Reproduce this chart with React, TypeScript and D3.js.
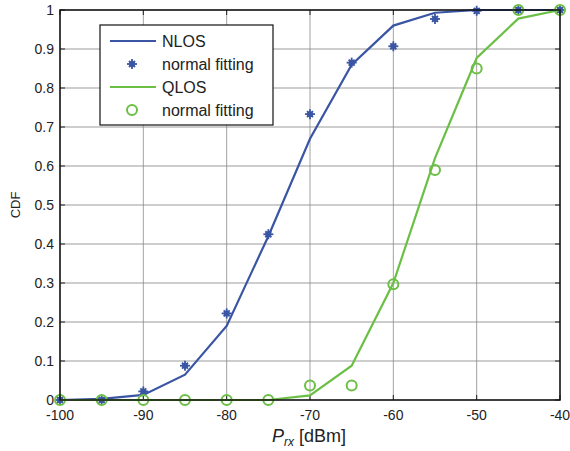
import React from "react";
import * as d3 from "d3";

// Received power grid [dBm]
const powerLevels = [-100, -95, -90, -85, -80, -75, -70, -65, -60, -55, -50, -45, -40];
// Empirical CDFs
const nlosCdf = [0, 0.003, 0.013, 0.065, 0.19, 0.42, 0.67, 0.86, 0.96, 0.993, 1, 1, 1];
const qlosCdf = [0, 0, 0, 0, 0, 0, 0.012, 0.088, 0.3, 0.62, 0.877, 0.978, 1];
// Normal-distribution fits
const nlosFit = [0, 0, 0.022, 0.088, 0.222, 0.425, 0.733, 0.865, 0.907, 0.977, 0.998, 1, 1];
const qlosFit = [0, 0, 0, 0, 0, 0, 0.037, 0.037, 0.297, 0.59, 0.85, 1, 1];

const xTicks = [-100, -90, -80, -70, -60, -50, -40];
const yTicks = [0, 0.1, 0.2, 0.3, 0.4, 0.5, 0.6, 0.7, 0.8, 0.9, 1];

const legendItems = [
  { label: "NLOS", kind: "line", color: "#3a55a4" },
  { label: "normal fitting", kind: "star", color: "#3a55a4" },
  { label: "QLOS", kind: "line", color: "#6cbf45" },
  { label: "normal fitting", kind: "circle", color: "#6cbf45" },
];

const BLUE = "#3a55a4";
const GREEN = "#6cbf45";
const FONT = "'Liberation Sans', Arial, sans-serif";

const W = 570;
const H = 451;
const left = 60, right = 560, top = 10, bottom = 400;

function Star({ x, y, color }: { x: number; y: number; color: string }) {
  const r = 5;
  const d = r * 0.6;
  return (
    <g stroke={color} strokeWidth={1.8} fill={color}>
      <line x1={x - r} y1={y} x2={x + r} y2={y} />
      <line x1={x} y1={y - r} x2={x} y2={y + r} />
      <line x1={x - d} y1={y - d} x2={x + d} y2={y + d} />
      <line x1={x - d} y1={y + d} x2={x + d} y2={y - d} />
      <circle cx={x} cy={y} r={3} stroke="none" />
    </g>
  );
}

export default function App() {
  const x = d3.scaleLinear().domain([-100, -40]).range([left, right]);
  const y = d3.scaleLinear().domain([0, 1]).range([bottom, top]);

  const line = d3
    .line<number>()
    .x((_, i) => x(powerLevels[i]))
    .y((v) => y(v));

  const tickLen = 5;

  return (
    <svg
      width={W}
      height={H}
      style={{ position: "absolute", left: 0, top: 0, background: "#fff" }}
      fontFamily={FONT}
    >
      <rect x={0} y={0} width={W} height={H} fill="#fff" />
      {/* grid */}
      {yTicks.map((t) => (
        <line key={"gy" + t} x1={left} x2={right} y1={y(t)} y2={y(t)} stroke="#bdbdbd" strokeWidth={1.3} />
      ))}
      {xTicks.map((t) => (
        <line key={"gx" + t} x1={x(t)} x2={x(t)} y1={top} y2={bottom} stroke="#8a8a8a" strokeWidth={0.8} />
      ))}

      {/* inward ticks */}
      {xTicks.map((t) => (
        <g key={"tx" + t} stroke="#222" strokeWidth={1}>
          <line x1={x(t)} x2={x(t)} y1={bottom} y2={bottom - tickLen} />
          <line x1={x(t)} x2={x(t)} y1={top} y2={top + tickLen} />
        </g>
      ))}
      {yTicks.map((t) => (
        <g key={"ty" + t} stroke="#222" strokeWidth={1}>
          <line x1={left} x2={left + tickLen} y1={y(t)} y2={y(t)} />
          <line x1={right} x2={right - tickLen} y1={y(t)} y2={y(t)} />
        </g>
      ))}

      {/* curves */}
      <path d={line(nlosCdf) || ""} fill="none" stroke={BLUE} strokeWidth={2.2} />
      {nlosFit.map((v, i) => (
        <Star key={"ns" + i} x={x(powerLevels[i])} y={y(v)} color={BLUE} />
      ))}
      <path d={line(qlosCdf) || ""} fill="none" stroke={GREEN} strokeWidth={2.2} />
      {qlosFit.map((v, i) => (
        <circle key={"qc" + i} cx={x(powerLevels[i])} cy={y(v)} r={5} fill="none" stroke={GREEN} strokeWidth={2} />
      ))}

      {/* axes box */}
      <rect x={left} y={top} width={right - left} height={bottom - top} fill="none" stroke="#111" strokeWidth={1.5} />

      {/* tick labels */}
      {xTicks.map((t) => (
        <text key={"lx" + t} x={x(t)} y={420} textAnchor="middle" fontSize={14} fill="#222">
          {t}
        </text>
      ))}
      {yTicks.map((t) => (
        <text key={"ly" + t} x={54} y={y(t) + 5} textAnchor="end" fontSize={14} fill="#222">
          {t === 0 || t === 1 ? String(t) : t.toFixed(1)}
        </text>
      ))}

      {/* axis labels */}
      <text x={272} y={442} fontSize={18} fill="#222">
        <tspan fontStyle="italic">P</tspan>
        <tspan fontStyle="italic" fontSize={12} dy={4}>rx</tspan>
        <tspan dy={-4}> [dBm]</tspan>
      </text>
      <text transform="translate(20,205) rotate(-90)" textAnchor="middle" fontSize={13} fill="#222">
        CDF
      </text>

      {/* legend */}
      <rect x={100} y={25} width={173} height={100} fill="#fff" stroke="#111" strokeWidth={1.2} />
      {legendItems.map((item, i) => {
        const cy = 41 + i * 23;
        return (
          <g key={"lg" + i}>
            {item.kind === "line" && (
              <line x1={110} x2={156} y1={cy} y2={cy} stroke={item.color} strokeWidth={2.2} />
            )}
            {item.kind === "star" && <Star x={132} y={cy} color={item.color} />}
            {item.kind === "circle" && (
              <circle cx={132} cy={cy} r={5} fill="none" stroke={item.color} strokeWidth={2} />
            )}
            <text x={162} y={cy + 6} fontSize={16} fill="#222">
              {item.label}
            </text>
          </g>
        );
      })}
    </svg>
  );
}
